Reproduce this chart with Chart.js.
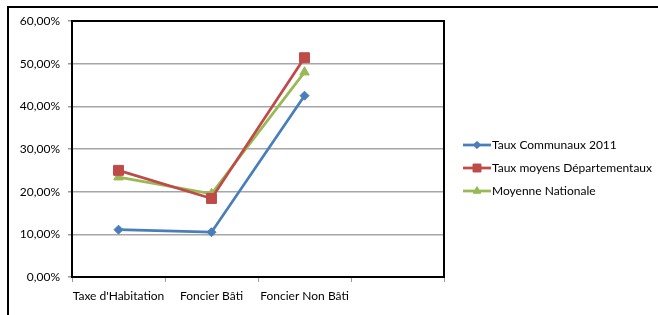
<!DOCTYPE html>
<html>
<head>
<meta charset="utf-8">
<script src="https://cdn.jsdelivr.net/npm/chart.js@4.4.1/dist/chart.umd.min.js"></script>
<style>
html,body{margin:0;padding:0;background:#fff;}
canvas{display:block;}
</style>
</head>
<body>
<canvas id="c" width="658" height="315"></canvas>
<script>
const categories = ["Taxe d'Habitation", "Foncier Bâti", "Foncier Non Bâti", ""];
const tauxCommunaux = [11.1, 10.5, 42.5, null];
const tauxDepartementaux = [25.0, 18.4, 51.4, null];
const moyenneNationale = [23.4, 19.5, 48.0, null];
const seriesNames = ["Taux Communaux 2011", "Taux moyens Départementaux", "Moyenne Nationale"];
const yTicks = [0, 10, 20, 30, 40, 50, 60];

const FONT = "Lato, 'Liberation Sans', sans-serif";
const PLOT = {left: 72, top: 21, right: 444, bottom: 277};

const framePlugin = {
  id: 'frame',
  beforeDraw(chart) {
    const ctx = chart.ctx;
    ctx.save();
    ctx.fillStyle = '#fff';
    ctx.fillRect(0, 0, chart.width, chart.height);
    ctx.restore();
  },
  afterDatasetsDraw(chart) {
    const ctx = chart.ctx;
    const a = chart.chartArea;
    ctx.save();
    ctx.strokeStyle = '#000';
    ctx.lineWidth = 2;
    ctx.strokeRect(a.left, a.top, a.right - a.left, a.bottom - a.top);
    ctx.strokeRect(8, 7, 800, 500);
    // legend
    const lx = 463, lw = 28, ly0 = 145, step = 23;
    chart.data.datasets.forEach((ds, i) => {
      const y = ly0 + i * step;
      ctx.strokeStyle = ds.borderColor;
      ctx.lineWidth = 2.75;
      ctx.beginPath();
      ctx.moveTo(lx, y);
      ctx.lineTo(lx + lw, y);
      ctx.stroke();
      ctx.fillStyle = ds.backgroundColor;
      Chart.helpers.drawPoint(ctx, {pointStyle: ds.pointStyle, rotation: 0, borderWidth: 0}, lx + lw / 2, y);
      ctx.save();
      ctx.fillStyle = ds.backgroundColor;
      ctx.strokeStyle = ds.borderColor;
      ctx.lineWidth = 1;
      Chart.helpers.drawPoint(ctx, {pointStyle: ds.pointStyle, radius: ds.pointRadius * 0.8, rotation: 0, borderWidth: 1}, lx + lw / 2, y);
      ctx.fill();
      ctx.restore();
      ctx.fillStyle = '#000';
      ctx.font = "12px " + FONT;
      ctx.textBaseline = 'middle';
      ctx.textAlign = 'left';
      ctx.fillText(ds.label, lx + lw + 1, y);
    });
    ctx.restore();
  }
};

function mkDs(label, data, color, style, r) {
  return {
    label, data,
    borderColor: color, backgroundColor: color,
    pointBackgroundColor: color, pointBorderColor: color,
    pointStyle: style, pointRadius: r, pointHoverRadius: r,
    pointBorderWidth: 1, borderWidth: 2.75, tension: 0, spanGaps: false
  };
}

new Chart(document.getElementById('c'), {
  type: 'line',
  data: {
    labels: categories,
    datasets: [
      mkDs(seriesNames[0], tauxCommunaux, '#4A7EBB', 'rectRot', 4.5),
      mkDs(seriesNames[1], tauxDepartementaux, '#BE4B48', 'rect', 7),
      mkDs(seriesNames[2], moyenneNationale, '#98B954', 'triangle', 5.5)
    ]
  },
  options: {
    responsive: false,
    animation: false,
    devicePixelRatio: 1,
    layout: {padding: {left: 0, top: PLOT.top, right: 658 - PLOT.right, bottom: 0}},
    plugins: {legend: {display: false}, tooltip: {enabled: false}},
    scales: {
      x: {
        type: 'category',
        offset: true,
        grid: {offset: true, drawOnChartArea: false, drawTicks: true, tickLength: 5, tickColor: '#9a9a9a', color: '#9a9a9a'},
        border: {display: false},
        ticks: {color: '#000', font: {family: FONT, size: 12}, padding: 7, maxRotation: 0, autoSkip: false},
        afterFit(s) { s.height = 315 - PLOT.bottom; }
      },
      y: {
        min: 0, max: 60,
        afterBuildTicks(s) { s.ticks = yTicks.map(v => ({value: v})); },
        grid: {color: '#a6a6a6', lineWidth: 1.5, drawTicks: true, tickLength: 4, tickColor: '#9a9a9a'},
        border: {display: false},
        ticks: {color: '#000', font: {family: FONT, size: 12}, padding: 8,
          callback: v => v.toFixed(2).replace('.', ',') + '%'},
        afterFit(s) { s.width = PLOT.left; }
      }
    }
  },
  plugins: [framePlugin]
});
</script>
</body>
</html>
